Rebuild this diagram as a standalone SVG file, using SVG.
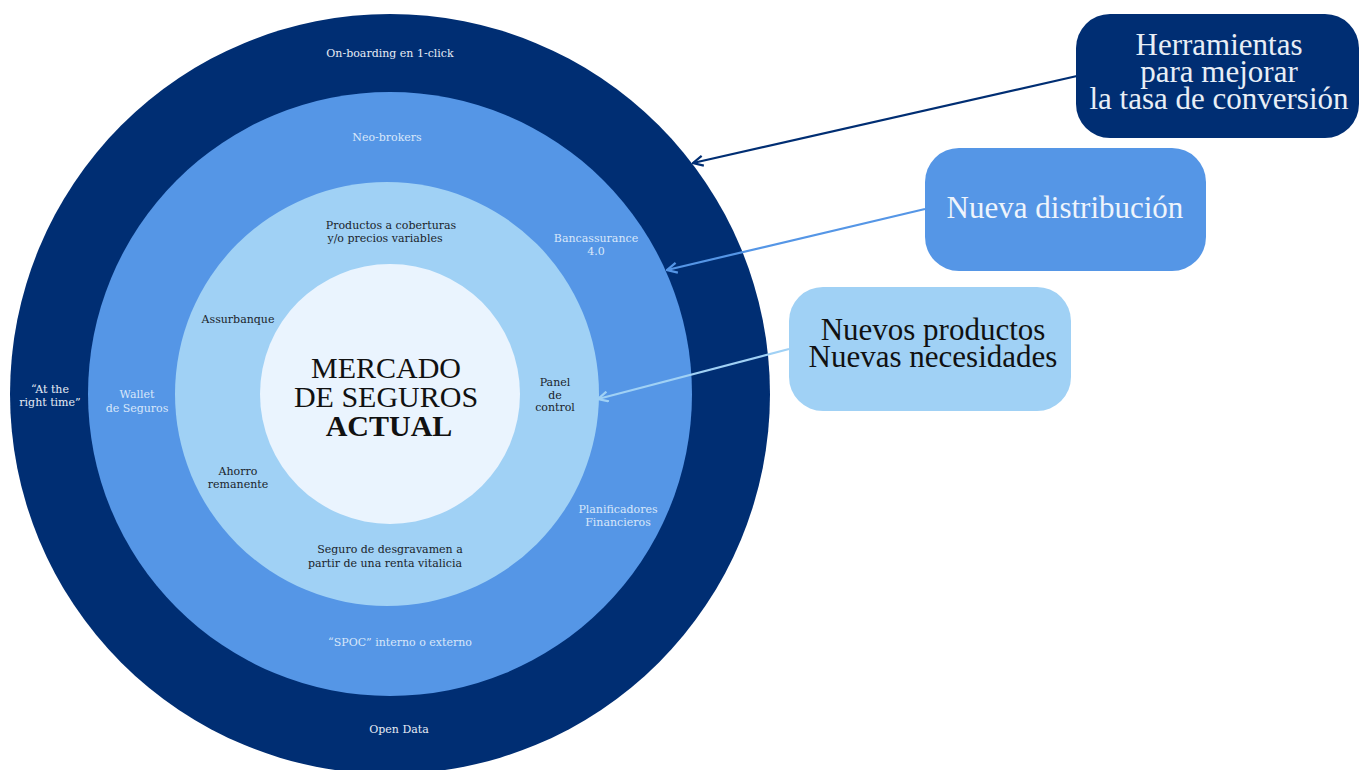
<svg xmlns="http://www.w3.org/2000/svg" width="1366" height="770" viewBox="0 0 1366 770">
  <style>
    text { font-family: "Liberation Serif", "DejaVu Serif", serif; text-anchor: middle; }
    .lbl text { font-family: "DejaVu Serif", "Liberation Serif", serif; font-size: 11px; }
    .wd { fill: #E6ECF5; }
    .wm { fill: #D8E7FA; }
    .dk { fill: #1A1F2B; }
    .big { font-size: 31px; }
    .center { font-size: 30px; fill: #111111; }
  </style>
  <defs>
    <marker id="arrNavy" viewBox="0 0 12 12" refX="11" refY="6" markerWidth="12" markerHeight="12" markerUnits="userSpaceOnUse" orient="auto">
      <path d="M1,1 L11,6 L1,11" fill="none" stroke="#002E73" stroke-width="2.2"/>
    </marker>
    <marker id="arrMid" viewBox="0 0 12 12" refX="11" refY="6" markerWidth="12" markerHeight="12" markerUnits="userSpaceOnUse" orient="auto">
      <path d="M1,1 L11,6 L1,11" fill="none" stroke="#5596E6" stroke-width="2.2"/>
    </marker>
    <marker id="arrLight" viewBox="0 0 12 12" refX="11" refY="6" markerWidth="12" markerHeight="12" markerUnits="userSpaceOnUse" orient="auto">
      <path d="M1,1 L11,6 L1,11" fill="none" stroke="#A0D1F5" stroke-width="2.2"/>
    </marker>
  </defs>
  <rect width="1366" height="770" fill="#FFFFFF"/>

  <g id="rings">
    <circle id="ring-outer" cx="390" cy="394" r="380" fill="#002E73"/>
    <circle id="ring-mid" cx="390" cy="394" r="302" fill="#5596E6"/>
    <circle id="ring-light" cx="387" cy="394" r="212" fill="#A0D1F5"/>
    <circle id="ring-core" cx="390" cy="394" r="130" fill="#EAF4FE"/>
  </g>

  <g id="core-label">
    <text class="center" x="386" y="378">MERCADO</text>
    <text class="center" x="386" y="407">DE SEGUROS</text>
    <text class="center" x="389" y="436" font-weight="bold">ACTUAL</text>
  </g>

  <g id="outer-labels" class="lbl">
    <g id="lbl-onboarding"><text class="wd" x="390" y="57">On-boarding en 1-click</text></g>
    <g id="lbl-righttime"><text class="wd" x="50" y="393">“At the</text><text class="wd" x="50" y="406">right time”</text></g>
    <g id="lbl-opendata"><text class="wd" x="399" y="733">Open Data</text></g>
  </g>

  <g id="mid-labels" class="lbl">
    <g id="lbl-neobrokers"><text class="wm" x="387" y="141">Neo-brokers</text></g>
    <g id="lbl-bancassurance"><text class="wm" x="596" y="242">Bancassurance</text><text class="wm" x="596" y="255">4.0</text></g>
    <g id="lbl-wallet"><text class="wm" x="137" y="398">Wallet</text><text class="wm" x="137" y="412">de Seguros</text></g>
    <g id="lbl-planificadores"><text class="wm" x="618" y="513">Planificadores</text><text class="wm" x="618" y="526">Financieros</text></g>
    <g id="lbl-spoc"><text class="wm" x="400" y="646">“SPOC” interno o externo</text></g>
  </g>

  <g id="light-labels" class="lbl">
    <g id="lbl-productos"><text class="dk" x="391" y="229">Productos a coberturas</text><text class="dk" x="385" y="242">y/o precios variables</text></g>
    <g id="lbl-assurbanque"><text class="dk" x="238" y="323">Assurbanque</text></g>
    <g id="lbl-panel"><text class="dk" x="555" y="386">Panel</text><text class="dk" x="555" y="398.5">de</text><text class="dk" x="555" y="411">control</text></g>
    <g id="lbl-ahorro"><text class="dk" x="238" y="475">Ahorro</text><text class="dk" x="238" y="488">remanente</text></g>
    <g id="lbl-seguro"><text class="dk" x="390" y="553">Seguro de desgravamen a</text><text class="dk" x="385" y="567">partir de una renta vitalicia</text></g>
  </g>

  <g id="connectors" fill="none" stroke-width="2.2">
    <line x1="1077" y1="76" x2="693" y2="163" stroke="#002E73" marker-end="url(#arrNavy)"/>
    <line x1="925" y1="209" x2="667" y2="270" stroke="#5596E6" marker-end="url(#arrMid)"/>
    <line x1="789" y1="349" x2="598" y2="399" stroke="#A0D1F5" marker-end="url(#arrLight)"/>
  </g>

  <g id="box-herramientas">
    <rect x="1076" y="14" width="283" height="124" rx="34" fill="#002E73"/>
    <text class="big" x="1219" y="55" fill="#E8EEF6">Herramientas</text>
    <text class="big" x="1219" y="82" fill="#E8EEF6">para mejorar</text>
    <text class="big" x="1219" y="109" fill="#E8EEF6">la tasa de conversión</text>
  </g>

  <g id="box-distribucion">
    <rect x="925" y="148" width="281" height="123" rx="34" fill="#5596E6"/>
    <text class="big" x="1065" y="218" fill="#EEF4FC">Nueva distribución</text>
  </g>

  <g id="box-productos">
    <rect x="789" y="287" width="282" height="124" rx="34" fill="#A0D1F5"/>
    <text class="big" x="933" y="340" fill="#111111">Nuevos productos</text>
    <text class="big" x="933" y="367" fill="#111111">Nuevas necesidades</text>
  </g>
</svg>
